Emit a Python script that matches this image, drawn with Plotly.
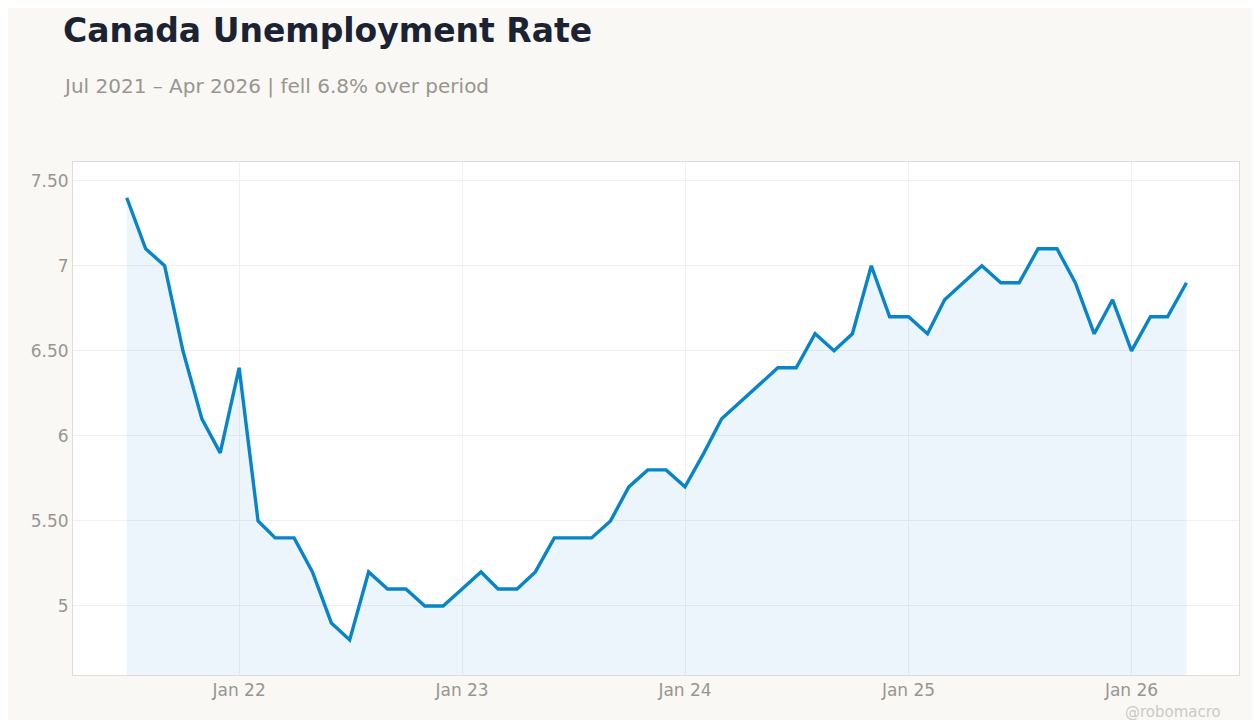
import plotly.graph_objects as go
import pandas as pd

dates = pd.date_range("2021-07-01", "2026-04-01", freq="MS")
rates = [7.4,7.1,7.0,6.5,6.1,5.9,
         6.4,5.5,5.4,5.4,5.2,4.9,4.8,5.2,5.1,5.1,5.0,5.0,
         5.1,5.2,5.1,5.1,5.2,5.4,5.4,5.4,5.5,5.7,5.8,5.8,
         5.7,5.9,6.1,6.2,6.3,6.4,6.4,6.6,6.5,6.6,7.0,6.7,
         6.7,6.6,6.8,6.9,7.0,6.9,6.9,7.1,7.1,6.9,6.6,6.8,
         6.5,6.7,6.7,6.9]
ytick_vals = [5, 5.5, 6, 6.5, 7, 7.5]
ytick_text = ["5", "5.50", "6", "6.50", "7", "7.50"]
xtick_vals = ["2022-01-01", "2023-01-01", "2024-01-01", "2025-01-01", "2026-01-01"]
xtick_text = ["Jan 22", "Jan 23", "Jan 24", "Jan 25", "Jan 26"]

W, H = 1244, 712
fig = go.Figure(go.Scatter(x=dates, y=rates, mode="lines", fill="tozeroy",
                           fillcolor="rgba(0,130,200,0.08)",
                           line=dict(color="#0884c8", width=3.4), hoverinfo="x+y"))
fig.update_layout(
    width=W, height=H, paper_bgcolor="#f9f8f5", plot_bgcolor="white",
    margin=dict(l=65, r=13, t=154, b=45),
    font=dict(family="DejaVu Sans", color="#999590", size=17),
    showlegend=False,
    xaxis=dict(range=["2021-04-04", "2026-06-26"], tickvals=xtick_vals, ticktext=xtick_text,
               showgrid=True, gridcolor="#f0f0f0", showline=True, linecolor="#e0ddd8", mirror=True,
               zeroline=False),
    yaxis=dict(range=[4.594, 7.61], tickvals=ytick_vals, ticktext=ytick_text,
               showgrid=True, gridcolor="#f0f0f0", showline=True, linecolor="#e0ddd8", mirror=True,
               zeroline=False),
    annotations=[
        dict(text="<b>Canada Unemployment Rate</b>", xref="paper", yref="paper",
             x=-12/1166, y=1 + (154 - 22)/513, xanchor="left", yanchor="middle", showarrow=False,
             font=dict(size=33, color="#1b2333")),
        dict(text="Jul 2021 – Apr 2026 | fell 6.8% over period", xref="paper", yref="paper",
             x=-12/1166, y=1 + (154 - 78)/513, xanchor="left", yanchor="middle", showarrow=False,
             font=dict(size=20, color="#999590")),
        dict(text="@robomacro", xref="paper", yref="paper", x=1 - 16/1166, y=-37/513,
             xanchor="right", yanchor="middle", showarrow=False,
             font=dict(size=15, color="#cccac5"))],
)
fig.write_html("out.html")
